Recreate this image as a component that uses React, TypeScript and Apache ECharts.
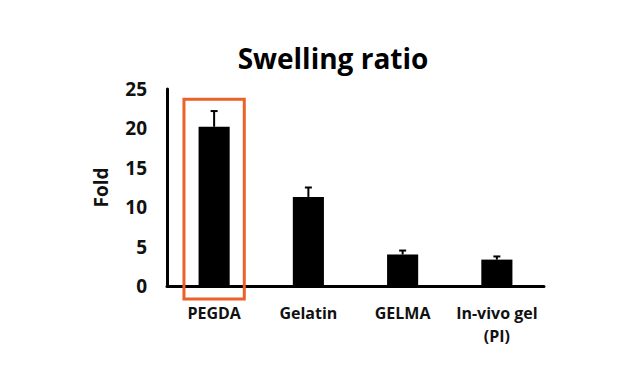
import React, { useEffect, useRef } from "react";
import * as echarts from "echarts";

const categories = ["PEGDA", "Gelatin", "GELMA", "In-vivo gel\n(PI)"];
const foldValues = [20.2, 11.3, 4.0, 3.35];
const errorTops = [22.2, 12.5, 4.5, 3.75];
const highlightIndex = 0;
const highlightRange = [-1.65, 23.7];
const yTicks = { min: 0, max: 25, interval: 5 };

export default function App() {
  const ref = useRef<HTMLDivElement>(null);
  useEffect(() => {
    if (!ref.current) return;
    const chart = echarts.init(ref.current, null, { renderer: "svg" });
    const font = "'Open Sans', 'Noto Sans', sans-serif";
    chart.setOption({
      animation: false,
      backgroundColor: "#ffffff",
      title: {
        text: "Swelling ratio",
        left: 320,
        textAlign: "center",
        top: 31,
        textStyle: { fontFamily: font, fontWeight: "bold", fontSize: 28, color: "#000" },
      },
      grid: { left: 159, right: 104, top: 81, bottom: 102 },
      xAxis: {
        type: "category",
        data: categories,
        axisLine: { lineStyle: { color: "#000", width: 3 } },
        axisTick: { show: false },
        axisLabel: {
          fontFamily: font,
          fontWeight: "bold",
          fontSize: 16,
          color: "#111",
          margin: 15,
          lineHeight: 23,
          interval: 0,
        },
      },
      yAxis: {
        type: "value",
        min: yTicks.min,
        max: yTicks.max,
        interval: yTicks.interval,
        name: "Fold",
        nameLocation: "middle",
        nameRotate: 90,
        nameGap: 57,
        nameTextStyle: { fontFamily: font, fontWeight: "bold", fontSize: 19, color: "#111" },
        axisLine: { show: true, lineStyle: { color: "#000", width: 3 } },
        axisTick: { show: false },
        splitLine: { show: false },
        axisLabel: {
          fontFamily: font,
          fontWeight: "bold",
          fontSize: 19,
          color: "#111",
          margin: 20,
        },
      },
      series: [
        {
          type: "bar",
          data: foldValues,
          barWidth: "33%",
          itemStyle: { color: "#000" },
        },
        {
          type: "custom",
          data: errorTops.map((v, i) => [i, foldValues[i], v]),
          z: 5,
          renderItem: (params: any, api: any) => {
            const i = api.value(0);
            const base = api.coord([i, api.value(1)]);
            const top = api.coord([i, api.value(2)]);
            return {
              type: "group",
              children: [
                {
                  type: "line",
                  shape: { x1: base[0], y1: base[1], x2: top[0], y2: top[1] },
                  style: { stroke: "#000", lineWidth: 2 },
                },
                {
                  type: "line",
                  shape: { x1: top[0] - 3.5, y1: top[1], x2: top[0] + 3.5, y2: top[1] },
                  style: { stroke: "#000", lineWidth: 2 },
                },
              ],
            };
          },
        },
        {
          type: "custom",
          data: [[highlightIndex, highlightRange[0], highlightRange[1]]],
          clip: false,
          z: 10,
          renderItem: (params: any, api: any) => {
            const i = api.value(0);
            const bottom = api.coord([i, api.value(1)]);
            const top = api.coord([i, api.value(2)]);
            const band = api.size([1, 0])[0];
            const w = band * 0.64;
            return {
              type: "rect",
              shape: { x: bottom[0] - w / 2, y: top[1], width: w, height: bottom[1] - top[1] },
              style: { fill: "none", stroke: "#E8622A", lineWidth: 3 },
            };
          },
        },
      ],
    });
    return () => chart.dispose();
  }, []);
  return <div ref={ref} style={{ width: 640, height: 380 }} />;
}
